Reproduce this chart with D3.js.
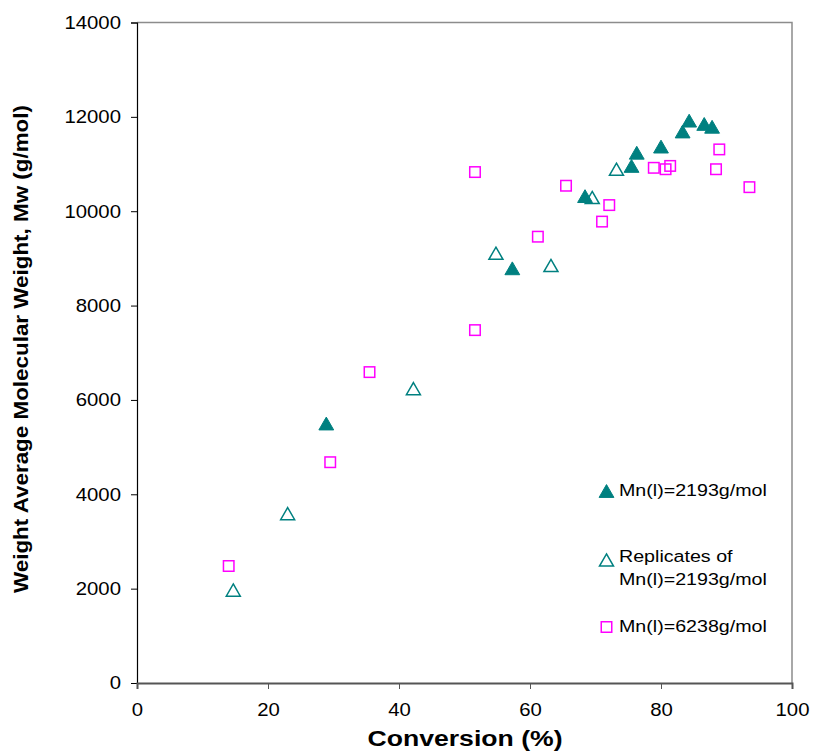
<!DOCTYPE html>
<html>
<head>
<meta charset="utf-8">
<script src="https://cdn.jsdelivr.net/npm/d3@7"></script>
<style>
  html, body { margin: 0; padding: 0; background: #fff; }
  svg { display: block; font-family: "Liberation Sans", Arial, sans-serif; }
</style>
</head>
<body>
<svg id="chart" width="813" height="755"></svg>
<script>
// Mw vs conversion for two initiator molecular weights
const filledConv = [28.9, 57.3, 68.4, 75.5, 76.3, 80.0, 83.3, 84.3, 86.6, 87.8];
const filledMw   = [5500, 8790, 10320, 10960, 11240, 11370, 11690, 11920, 11850, 11790];

const replConv = [14.7, 23.0, 42.2, 54.8, 63.2, 69.5, 73.2];
const replMw   = [1970, 3590, 6240, 9110, 8850, 10290, 10890];

const sqConv = [14.0, 29.5, 35.5, 51.6, 51.6, 61.2, 65.5, 71.0, 72.1, 78.9, 80.7, 81.4, 88.4, 88.9, 93.5];
const sqMw   = [2480, 4680, 6590, 7480, 10830, 9460, 10540, 9780, 10130, 10920, 10890, 10960, 10890, 11310, 10510];

const xTicks = [0, 20, 40, 60, 80, 100];
const yTicks = [0, 2000, 4000, 6000, 8000, 10000, 12000, 14000];

const legendLabels = [["Mn(l)=2193g/mol"], ["Replicates of", "Mn(l)=2193g/mol"], ["Mn(l)=6238g/mol"]];

const teal = "#008080", magenta = "#ff00ff";

const svg = d3.select("#chart");
const plotL = 137, plotR = 792, plotT = 22.5, plotB = 683;

const x = d3.scaleLinear().domain([0, 100]).range([plotL, plotR]);
const y = d3.scaleLinear().domain([0, 14000]).range([plotB, plotT]);

// widen glyphs horizontally to the wide face used in the chart
function widen(sel, f) {
  sel.each(function () {
    const w = this.getComputedTextLength();
    this.setAttribute("textLength", w * f);
    this.setAttribute("lengthAdjust", "spacingAndGlyphs");
  });
}

// plot frame (top and right)
svg.append("path")
  .attr("d", `M${plotL},${plotT}H${plotR}V${plotB}`)
  .attr("fill", "none").attr("stroke", "#8c8c8c").attr("stroke-width", 1.5);

// y axis
const yAxis = svg.append("g").attr("transform", `translate(${plotL},0)`)
  .call(d3.axisLeft(y).tickValues(yTicks).tickSize(6).tickPadding(10).tickFormat(d3.format("d")));
yAxis.select(".domain").attr("stroke", "#000").attr("stroke-width", 1.2);
yAxis.selectAll(".tick line").attr("stroke", "#000");
yAxis.selectAll("text").attr("font-size", 18.5).attr("fill", "#000")
  .attr("font-family", "Liberation Sans, Arial, sans-serif");
widen(yAxis.selectAll("text"), 1.1);

// x axis
const xAxis = svg.append("g").attr("transform", `translate(0,${plotB})`)
  .call(d3.axisBottom(x).tickValues(xTicks).tickSize(6).tickPadding(14).tickFormat(d3.format("d")));
xAxis.select(".domain").attr("stroke", "#555").attr("stroke-width", 2);
xAxis.selectAll(".tick line").attr("stroke", "#555");
xAxis.selectAll("text").attr("font-size", 18.5).attr("fill", "#000")
  .attr("font-family", "Liberation Sans, Arial, sans-serif");
widen(xAxis.selectAll("text"), 1.1);

// axis titles
const xTitle = svg.append("text")
  .attr("x", 465).attr("y", 746)
  .attr("text-anchor", "middle").attr("font-weight", "bold").attr("font-size", 22)
  .text("Conversion (%)");
xTitle.attr("textLength", 195).attr("lengthAdjust", "spacingAndGlyphs");

const yTitle = svg.append("text")
  .attr("transform", `translate(28,349) rotate(-90)`)
  .attr("text-anchor", "middle").attr("font-weight", "bold").attr("font-size", 19.5)
  .text("Weight Average Molecular Weight, Mw (g/mol)");
yTitle.attr("textLength", 488).attr("lengthAdjust", "spacingAndGlyphs");

// markers (triangles shifted so their box centre sits on the value)
const triFilledSize = 95, triOpenSize = 85;
const tri = d3.symbol().type(d3.symbolTriangle).size(triFilledSize);
const triOpen = d3.symbol().type(d3.symbolTriangle).size(triOpenSize);
const triShift = s => Math.sqrt(s * 4 / Math.sqrt(3)) * Math.sqrt(3) / 2 / 6;

svg.append("g").selectAll("path").data(d3.range(filledConv.length)).join("path")
  .attr("d", tri)
  .attr("transform", i => `translate(${x(filledConv[i])},${y(filledMw[i]) + triShift(triFilledSize)})`)
  .attr("fill", teal).attr("stroke", teal).attr("stroke-width", 1);

svg.append("g").selectAll("path").data(d3.range(replConv.length)).join("path")
  .attr("d", triOpen)
  .attr("transform", i => `translate(${x(replConv[i])},${y(replMw[i]) + triShift(triOpenSize)})`)
  .attr("fill", "none").attr("stroke", teal).attr("stroke-width", 1.5);

const sq = 10.5;
svg.append("g").selectAll("rect").data(d3.range(sqConv.length)).join("rect")
  .attr("x", i => x(sqConv[i]) - sq / 2).attr("y", i => y(sqMw[i]) - sq / 2)
  .attr("width", sq).attr("height", sq)
  .attr("fill", "none").attr("stroke", magenta).attr("stroke-width", 1.5);

// legend
const lg = svg.append("g").attr("font-size", 16.8);
const lgMark = [491, 560, 627];
lg.append("path").attr("d", tri).attr("transform", `translate(606.5,${lgMark[0] + triShift(triFilledSize)})`)
  .attr("fill", teal).attr("stroke", teal);
lg.append("path").attr("d", triOpen).attr("transform", `translate(606.5,${lgMark[1] + triShift(triOpenSize)})`)
  .attr("fill", "none").attr("stroke", teal).attr("stroke-width", 1.5);
lg.append("rect").attr("x", 606.5 - sq / 2).attr("y", lgMark[2] - sq / 2).attr("width", sq).attr("height", sq)
  .attr("fill", "none").attr("stroke", magenta).attr("stroke-width", 1.5);

const lgBase = [[496], [562, 585], [632]];
legendLabels.forEach((lines, k) => {
  lines.forEach((s, j) => {
    const t = lg.append("text").attr("x", 619).attr("y", lgBase[k][j]).attr("fill", "#000").text(s);
    widen(t, 1.17);
  });
});
</script>
</body>
</html>
